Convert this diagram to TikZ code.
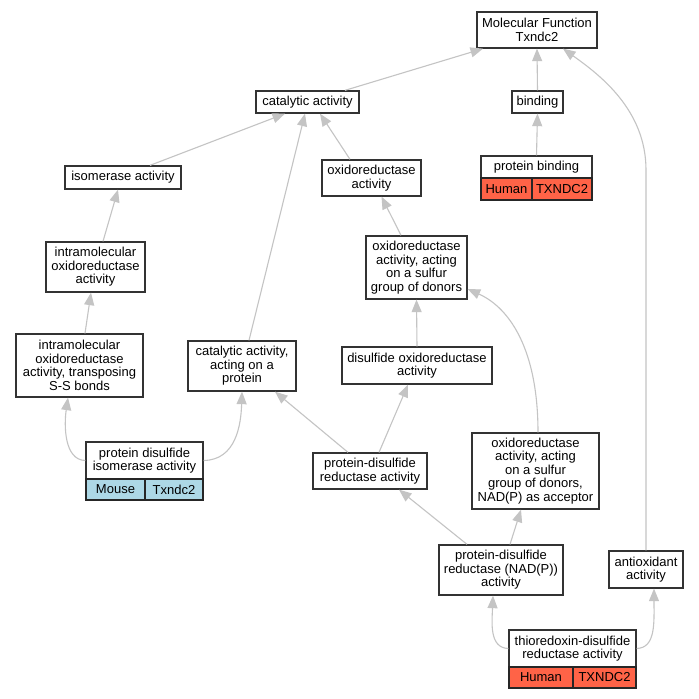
\documentclass[tikz,border=0pt]{standalone}
\usepackage{fontspec}
\setmainfont{Liberation Sans}
\usetikzlibrary{arrows.meta}
\definecolor{edgec}{HTML}{C4C4C4}
\definecolor{boxc}{HTML}{333333}
\definecolor{human}{HTML}{FF6347}
\definecolor{mouse}{HTML}{ADD8E6}
\begin{document}
\begin{tikzpicture}[x=1pt,y=-1pt,
  gobox/.style={draw=boxc,line width=1.3pt,fill=white,inner sep=0pt,align=center,
    font=\fontsize{13}{13.5}\selectfont},
  cellbox/.style={draw=black!85,line width=1.1pt,inner sep=0pt,align=center,
    font=\fontsize{13}{13.5}\selectfont},
  isa/.style={draw=edgec,line width=1.1pt,-{Triangle[length=12.5pt,width=10pt,fill=edgec]}}]
\useasboundingbox (0,0) rectangle (699,699);
\fill[white] (0,0) rectangle (699,699);
% nodes
\node[gobox,minimum width=120pt,minimum height=36pt] (MF) at (537,30) {Molecular Function\\Txndc2};
\node[gobox,minimum width=103pt,minimum height=22pt] (cat) at (307.5,102) {catalytic activity};
\node[gobox,minimum width=51pt,minimum height=22pt] (bind) at (537.5,102) {binding};
\node[gobox,minimum width=111pt,minimum height=22pt] (pbind) at (536.5,167) {protein binding};
\node[cellbox,fill=human,minimum width=51pt,minimum height=22pt] (pbh) at (506.5,189) {Human};
\node[cellbox,fill=human,minimum width=60pt,minimum height=22pt] (pbg) at (562,189) {TXNDC2};
\node[gobox,minimum width=116pt,minimum height=23pt] (iso) at (123,177.5) {isomerase activity};
\node[gobox,minimum width=99pt,minimum height=36pt] (oxr) at (371.5,178) {oxidoreductase\\activity};
\node[gobox,minimum width=99pt,minimum height=50pt] (intra) at (95.5,267) {intramolecular\\oxidoreductase\\activity};
\node[gobox,minimum width=101pt,minimum height=63pt] (sulf) at (416.5,267.5) {oxidoreductase\\activity, acting\\on a sulfur\\group of donors};
\node[gobox,minimum width=127pt,minimum height=63pt] (ss) at (79.5,365.5) {intramolecular\\oxidoreductase\\activity, transposing\\S-S bonds};
\node[gobox,minimum width=108pt,minimum height=50pt] (cap) at (242,366) {catalytic activity,\\acting on a\\protein};
\node[gobox,minimum width=150pt,minimum height=37pt] (dis) at (417,365.5) {disulfide oxidoreductase\\activity};
\node[gobox,minimum width=117pt,minimum height=37pt] (pdi) at (144.5,460.5) {protein disulfide\\isomerase activity};
\node[cellbox,fill=mouse,minimum width=59pt,minimum height=21pt] (pdim) at (115.5,489.5) {Mouse};
\node[cellbox,fill=mouse,minimum width=58pt,minimum height=21pt] (pdig) at (174,489.5) {Txndc2};
\node[gobox,minimum width=114pt,minimum height=36pt] (pdr) at (370,471) {protein-disulfide\\reductase activity};
\node[gobox,minimum width=127pt,minimum height=76pt] (nad) at (535.5,471) {oxidoreductase\\activity, acting\\on a sulfur\\group of donors,\\NAD(P) as acceptor};
\node[gobox,minimum width=124pt,minimum height=50pt] (pdrn) at (501,570) {protein-disulfide\\reductase (NAD(P))\\activity};
\node[gobox,minimum width=74pt,minimum height=37pt] (anti) at (646,569.5) {antioxidant\\activity};
\node[gobox,minimum width=127pt,minimum height=37pt] (thio) at (572.5,648.5) {thioredoxin-disulfide\\reductase activity};
\node[cellbox,fill=human,minimum width=64pt,minimum height=21pt] (thh) at (541,677.5) {Human};
\node[cellbox,fill=human,minimum width=63pt,minimum height=21pt] (thg) at (604.5,677.5) {TXNDC2};
% edges
\draw[isa] ([xshift=37.5pt]cat.north) -- ([xshift=-54pt]MF.south);
\draw[isa] (bind.north) -- (MF.south);
\draw[isa] (anti.north) -- (646,170) .. controls (646,110) and (600,75) .. ([xshift=26pt]MF.south);
\draw[isa] (pbind.north) -- (bind.south);
\draw[isa] ([xshift=27pt]iso.north) -- ([xshift=-22.5pt]cat.south);
\draw[isa] ([xshift=-21.5pt]oxr.north) -- ([xshift=12.5pt]cat.south);
\draw[isa] ([xshift=7pt]cap.north) -- ([xshift=-2.5pt]cat.south);
\draw[isa] ([xshift=7.5pt]intra.north) -- ([xshift=-5pt]iso.south);
\draw[isa] ([xshift=-15.5pt]sulf.north) -- ([xshift=10pt]oxr.south);
\draw[isa] ([xshift=5.5pt]ss.north) -- ([xshift=-4.5pt]intra.south);
\draw[isa] (dis.north) -- (sulf.south);
\draw[isa] ([xshift=2.5pt]nad.north) .. controls (538,350) and (510,308) .. ([yshift=-21.5pt]sulf.east);
\draw[isa] (pdi.west) .. controls (64,460) and (64,425) .. ([xshift=-11.5pt]ss.south);
\draw[isa] (pdi.east) .. controls (236,460) and (241,425) .. (cap.south);
\draw[isa] ([xshift=-22pt]pdr.north) -- ([xshift=33pt]cap.south);
\draw[isa] ([xshift=9pt]pdr.north) -- ([xshift=-9pt]dis.south);
\draw[isa] ([xshift=-34pt]pdrn.north) -- ([xshift=29pt]pdr.south);
\draw[isa] ([xshift=9pt]pdrn.north) -- ([xshift=-14.5pt]nad.south);
\draw[isa] (thio.west) .. controls (489,648) and (492,622) .. ([xshift=-8pt]pdrn.south);
\draw[isa] (thio.east) .. controls (656,648) and (654,622) .. ([xshift=8pt]anti.south);
\end{tikzpicture}
\end{document}
